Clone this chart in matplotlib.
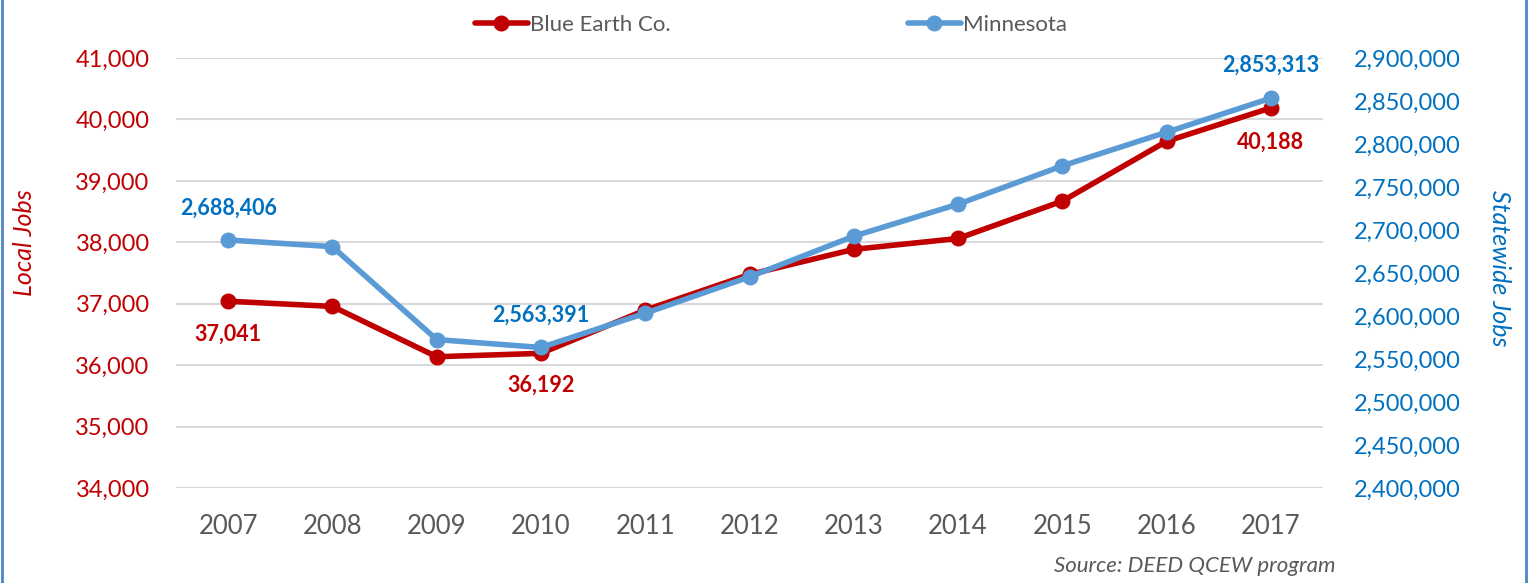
import matplotlib
matplotlib.use("Agg")
import matplotlib.pyplot as plt
from matplotlib.lines import Line2D
from matplotlib.ticker import FuncFormatter, MultipleLocator

plt.rcParams['font.family'] = ['Lato', 'DejaVu Sans']

years = ["2007", "2008", "2009", "2010", "2011", "2012", "2013", "2014", "2015", "2016", "2017"]
blue_earth = [37041, 36956, 36137, 36192, 36896, 37476, 37885, 38062, 38670, 39644, 40188]
minnesota = [2688406, 2680600, 2572600, 2563391, 2603200, 2645500, 2692800, 2730000, 2774600, 2813700, 2853313]

RED = "#C00000"
BLUE_LINE = "#5B9BD5"
BLUE_TXT = "#0070C0"
GRAY = "#595959"

fig = plt.figure(figsize=(15.36, 5.83), dpi=100)
ax = fig.add_axes([176/1536, 1-488/583, (1323-176)/1536, (488-58)/583])
ax2 = ax.twinx()

x = list(range(len(years)))
l1, = ax.plot(x, blue_earth, color=RED, lw=4, marker='o', ms=10.5, label="Blue Earth Co.",
              solid_capstyle='round', zorder=3)
l2, = ax2.plot(x, minnesota, color=BLUE_LINE, lw=4, marker='o', ms=10.5, label="Minnesota",
               solid_capstyle='round', zorder=3)

ax.set_xlim(-0.5, len(years) - 0.5)
ax.set_ylim(34000, 41000)
ax2.set_ylim(2400000, 2900000)
ax.yaxis.set_major_locator(MultipleLocator(1000))
ax2.yaxis.set_major_locator(MultipleLocator(50000))
fmt = FuncFormatter(lambda v, p: f"{int(round(v)):,}")
ax.yaxis.set_major_formatter(fmt)
ax2.yaxis.set_major_formatter(fmt)
ax.set_xticks(x)
ax.set_xticklabels(years)

ax.grid(axis='y', color='#D9D9D9', lw=1.5, zorder=0)
ax.set_axisbelow(True)
for a in (ax, ax2):
    for s in a.spines.values():
        s.set_visible(False)
ax.tick_params(axis='y', length=0, pad=19, labelsize=17, labelcolor=RED)
ax.tick_params(axis='x', length=0, pad=19, labelsize=18.5, labelcolor=GRAY)
ax2.tick_params(axis='y', length=0, pad=22, labelsize=17, labelcolor=BLUE_TXT)

# data labels
def lab(axis, i, vals, color, dy):
    axis.annotate(f"{vals[i]:,}", (x[i], vals[i]), xytext=(0, dy), textcoords='offset points',
                  ha='center', va='center', fontsize=15.5, fontweight='bold', color=color)

lab(ax2, 0, minnesota, BLUE_TXT, 23)
lab(ax, 0, blue_earth, RED, -24)
lab(ax2, 3, minnesota, BLUE_TXT, 23)
lab(ax, 3, blue_earth, RED, -23)
lab(ax2, 10, minnesota, BLUE_TXT, 24)
lab(ax, 10, blue_earth, RED, -25)

leg = fig.legend(handles=[l1, l2], loc='center', bbox_to_anchor=(771/1536, 1-25/583), ncol=2,
                 frameon=False, fontsize=16, handlelength=2.4, handletextpad=0.1,
                 columnspacing=10.65, borderaxespad=0)
for t in leg.get_texts():
    t.set_color(GRAY)

fig.text(25/1536, 1-243/583, "Local Jobs", rotation=90, ha='center', va='center',
         fontsize=18, style='italic', color=RED)
fig.text(1500/1536, 1-268/583, "Statewide Jobs", rotation=270, ha='center', va='center',
         fontsize=18, style='italic', color=BLUE_TXT)
fig.text(1336/1536, 1-566/583, "Source: DEED QCEW program", ha='right', va='center',
         fontsize=16, style='italic', color=GRAY)

fig.add_artist(Line2D([1.5/1536, 1.5/1536], [0, 1], transform=fig.transFigure, color='#4A86C8', lw=2))
fig.add_artist(Line2D([1526/1536, 1526/1536], [0, 1], transform=fig.transFigure, color='#4A86C8', lw=2))

fig.savefig("out.png", dpi=100, facecolor='white')
